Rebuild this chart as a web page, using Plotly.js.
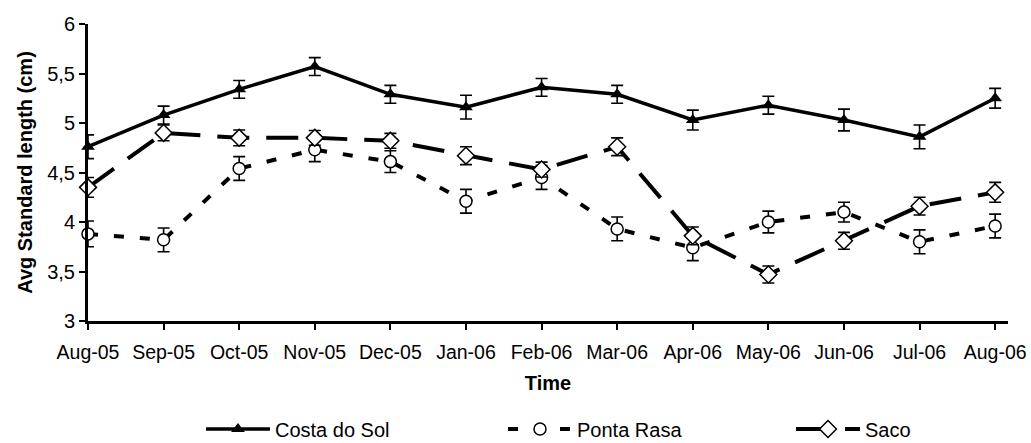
<!DOCTYPE html>
<html>
<head>
<meta charset="utf-8">
<script src="https://cdn.plot.ly/plotly-3.0.1.min.js"></script>
<style>html,body{margin:0;padding:0;background:#fff;}#chart{width:1031px;height:443px;}</style>
</head>
<body>
<div id="chart"></div>
<script>
const months = ["Aug-05","Sep-05","Oct-05","Nov-05","Dec-05","Jan-06","Feb-06","Mar-06","Apr-06","May-06","Jun-06","Jul-06","Aug-06"];
const costaDoSol = [4.76,5.08,5.34,5.57,5.29,5.16,5.36,5.29,5.03,5.18,5.03,4.86,5.25];
const costaDoSolErr = [0.12,0.09,0.09,0.09,0.09,0.12,0.09,0.09,0.10,0.09,0.11,0.12,0.10];
const pontaRasa = [3.88,3.82,4.54,4.73,4.61,4.21,4.45,3.93,3.74,4.00,4.10,3.80,3.96];
const pontaRasaErr = [0.13,0.12,0.12,0.12,0.11,0.12,0.12,0.12,0.13,0.11,0.10,0.12,0.12];
const saco = [4.35,4.90,4.85,4.85,4.82,4.67,4.53,4.76,3.86,3.47,3.81,4.16,4.30];
const sacoErr = [0.10,0.08,0.08,0.075,0.075,0.09,0.075,0.09,0.09,0.086,0.085,0.09,0.10];
const yTicks = [3,3.5,4,4.5,5,5.5,6];

const FONT = "Liberation Sans, Arial, sans-serif";

const traces = [
  {
    x: months, y: costaDoSol, name: "Costa do Sol", type: "scatter", mode: "lines+markers",
    line: {color: "#000", width: 3.5},
    marker: {symbol: "triangle-up", size: 12, color: "#000"},
    error_y: {type: "data", array: costaDoSolErr, visible: true, color: "#000", thickness: 1.6, width: 6},
    cliponaxis: false, legend: "legend"
  },
  {
    x: months, y: pontaRasa, name: "Ponta Rasa", type: "scatter", mode: "lines+markers",
    line: {color: "#000", width: 4, dash: "10px,16px"},
    marker: {symbol: "circle", size: 12, color: "#fff", line: {color: "#000", width: 1.5}},
    error_y: {type: "data", array: pontaRasaErr, visible: true, color: "#000", thickness: 1.6, width: 6},
    cliponaxis: false, legend: "legend2"
  },
  {
    x: months, y: saco, name: "Saco", type: "scatter", mode: "lines+markers",
    line: {color: "#000", width: 4, dash: "32px,17px"},
    marker: {symbol: "diamond", size: 13, color: "#fff", line: {color: "#000", width: 1.5}},
    error_y: {type: "data", array: sacoErr, visible: true, color: "#000", thickness: 1.6, width: 6},
    cliponaxis: false, legend: "legend3"
  }
];

function leg(xpx) {
  return {
    xref: "container", yref: "container",
    x: xpx / 1031, y: (443 - 429) / 443, xanchor: "left", yanchor: "middle",
    orientation: "h", bgcolor: "rgba(0,0,0,0)", borderwidth: 0,
    itemwidth: 64,
    font: {family: FONT, size: 20, color: "#000"}
  };
}

const layout = {
  width: 1031, height: 443,
  margin: {l: 88, r: 23, t: 24, b: 122},
  paper_bgcolor: "#fff", plot_bgcolor: "#fff",
  separators: ",.",
  font: {family: FONT, color: "#000"},
  showlegend: true,
  xaxis: {
    type: "category", range: [0, 12.17],
    showgrid: false, zeroline: false,
    showline: true, linecolor: "#000", linewidth: 3,
    ticks: "outside", ticklen: 6, tickwidth: 2, tickcolor: "#000",
    ticklabelstandoff: 6,
    tickfont: {family: FONT, size: 19.5, color: "#000"},
    title: {text: "<b>Time</b>", font: {family: FONT, size: 20, color: "#000"}, standoff: 14},
    automargin: false
  },
  yaxis: {
    range: [3, 6], tickvals: yTicks,
    showgrid: false, zeroline: false,
    showline: true, linecolor: "#000", linewidth: 3,
    ticks: "outside", ticklen: 6, tickwidth: 2, tickcolor: "#000",
    tickfont: {family: FONT, size: 20, color: "#000"},
    title: {text: "<b>Avg Standard length (cm)</b>\u00a0\u00a0\u00a0\u00a0\u00a0", font: {family: FONT, size: 20, color: "#000"}, standoff: 10},
    automargin: false
  },
  legend: leg(201),
  legend2: leg(503),
  legend3: leg(791)
};

Plotly.newPlot("chart", traces, layout, {displayModeBar: false, staticPlot: true});
</script>
</body>
</html>
